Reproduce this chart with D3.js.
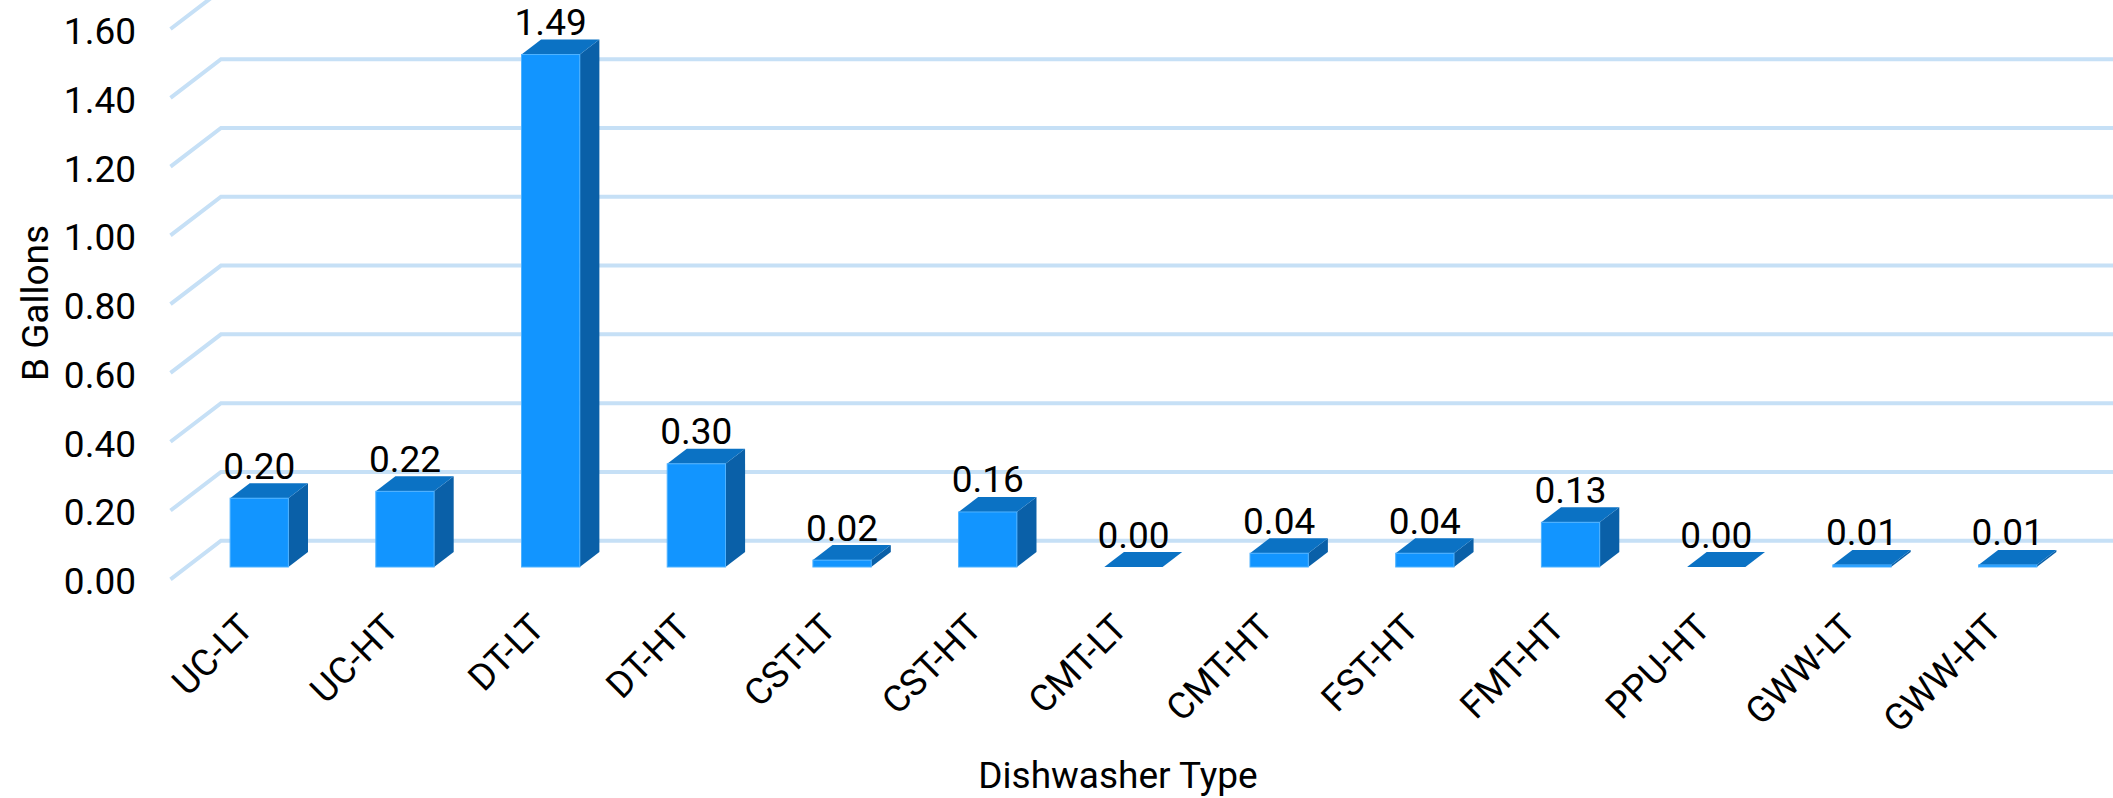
<!DOCTYPE html>
<html>
<head>
<meta charset="utf-8">
<script src="https://cdn.jsdelivr.net/npm/d3@7"></script>
<style>
  html, body { margin: 0; padding: 0; background: #fff; overflow: hidden; }
  text { font-family: Roboto, sans-serif; fill: #000; }
</style>
</head>
<body>
<div id="chart"></div>
<script>
const categories = ['UC-LT', 'UC-HT', 'DT-LT', 'DT-HT', 'CST-LT', 'CST-HT', 'CMT-LT', 'CMT-HT', 'FST-HT', 'FMT-HT', 'PPU-HT', 'GWW-LT', 'GWW-HT']
const values = [0.20, 0.22, 1.49, 0.30, 0.02, 0.16, 0.00, 0.04, 0.04, 0.13, 0.00, 0.006, 0.006]
const yTicks = [0, 0.2, 0.4, 0.6, 0.8, 1.0, 1.2, 1.4, 1.6]
const xTitle = 'Dishwasher Type'
const yTitle = 'B Gallons'

const width = 2113, height = 798

const svg = d3.select('#chart').append('svg')
    .attr('width', width)
    .attr('height', height)
    .style('display', 'block')

// front plane of the fake 3d box
const y = d3.scaleLinear().domain([0, 1.6]).range([579.3, 29])
const x = d3.scaleBand().domain(categories).range([186.4, 2080.5]).paddingInner(0.6).paddingOuter(0.3)

const wallX = 50.5, wallY = 38.6      // depth of the side wall
const barX = 19.6, barY = 15          // depth of one bar
const barShiftY = 12.3

// gridlines
const grid = svg.append('g').attr('fill', 'none').attr('stroke', '#c6e0f6').attr('stroke-width', 4)
yTicks.forEach(t => {
  grid.append('path')
    .attr('d', `M170.5,${y(t)}L${170.5 + wallX},${y(t) - wallY}L${width},${y(t) - wallY}`)
})

// bars
const bars = svg.append('g').selectAll('g').data(categories.map((c, i) => ({c: c, v: values[i]}))).enter().append('g')

const front = d => ({
  x0: x(d.c),
  x1: x(d.c) + x.bandwidth(),
  y0: y(0) - barShiftY,
  y1: y(d.v) - barShiftY
})

bars.append('path')
    .attr('fill', '#0a60a8')
    .attr('d', d => {
      let f = front(d)
      return `M${f.x1},${f.y0}L${f.x1 + barX},${f.y0 - barY}L${f.x1 + barX},${f.y1 - barY}L${f.x1},${f.y1}Z`
    })

bars.append('path')
    .attr('fill', '#0b72c4')
    .attr('d', d => {
      let f = front(d)
      return `M${f.x0},${f.y1}L${f.x0 + barX},${f.y1 - barY}L${f.x1 + barX},${f.y1 - barY}L${f.x1},${f.y1}Z`
    })

bars.append('rect')
    .attr('fill', '#1295ff')
    .attr('stroke', '#4fb2ff')
    .attr('stroke-width', 1)
    .attr('x', d => front(d).x0)
    .attr('y', d => front(d).y1)
    .attr('width', x.bandwidth())
    .attr('height', d => front(d).y0 - front(d).y1)

bars.append('text')
    .attr('x', d => x(d.c) + x.bandwidth() / 2)
    .attr('y', d => front(d).y1 - barY - 4.5)
    .attr('text-anchor', 'middle')
    .attr('font-size', 37)
    .text(d => d.v.toFixed(2))

// y axis
const yAxis = svg.append('g')
    .attr('transform', 'translate(140,0)')
    .call(d3.axisLeft(y).tickValues(yTicks).tickFormat(d3.format('.2f')).tickSize(0).tickPadding(4))
yAxis.select('.domain').remove()
yAxis.selectAll('text').attr('font-size', 37).attr('font-family', 'Roboto, sans-serif').attr('dy', '0.39em')

// x axis, rotated labels
const xAxis = svg.append('g')
    .attr('transform', 'translate(0,612)')
    .call(d3.axisBottom(x).tickSize(0).tickPadding(0))
xAxis.select('.domain').remove()
xAxis.selectAll('text')
    .attr('font-size', 37)
    .attr('font-family', 'Roboto, sans-serif')
    .attr('text-anchor', 'end')
    .attr('dy', 0)
    .attr('transform', 'translate(-4,18) rotate(-45)')

svg.append('text')
    .attr('x', 1118)
    .attr('y', 788)
    .attr('text-anchor', 'middle')
    .attr('font-size', 37)
    .text(xTitle)

svg.append('text')
    .attr('transform', 'translate(48,303) rotate(-90)')
    .attr('text-anchor', 'middle')
    .attr('font-size', 37)
    .text(yTitle)
</script>
</body>
</html>
